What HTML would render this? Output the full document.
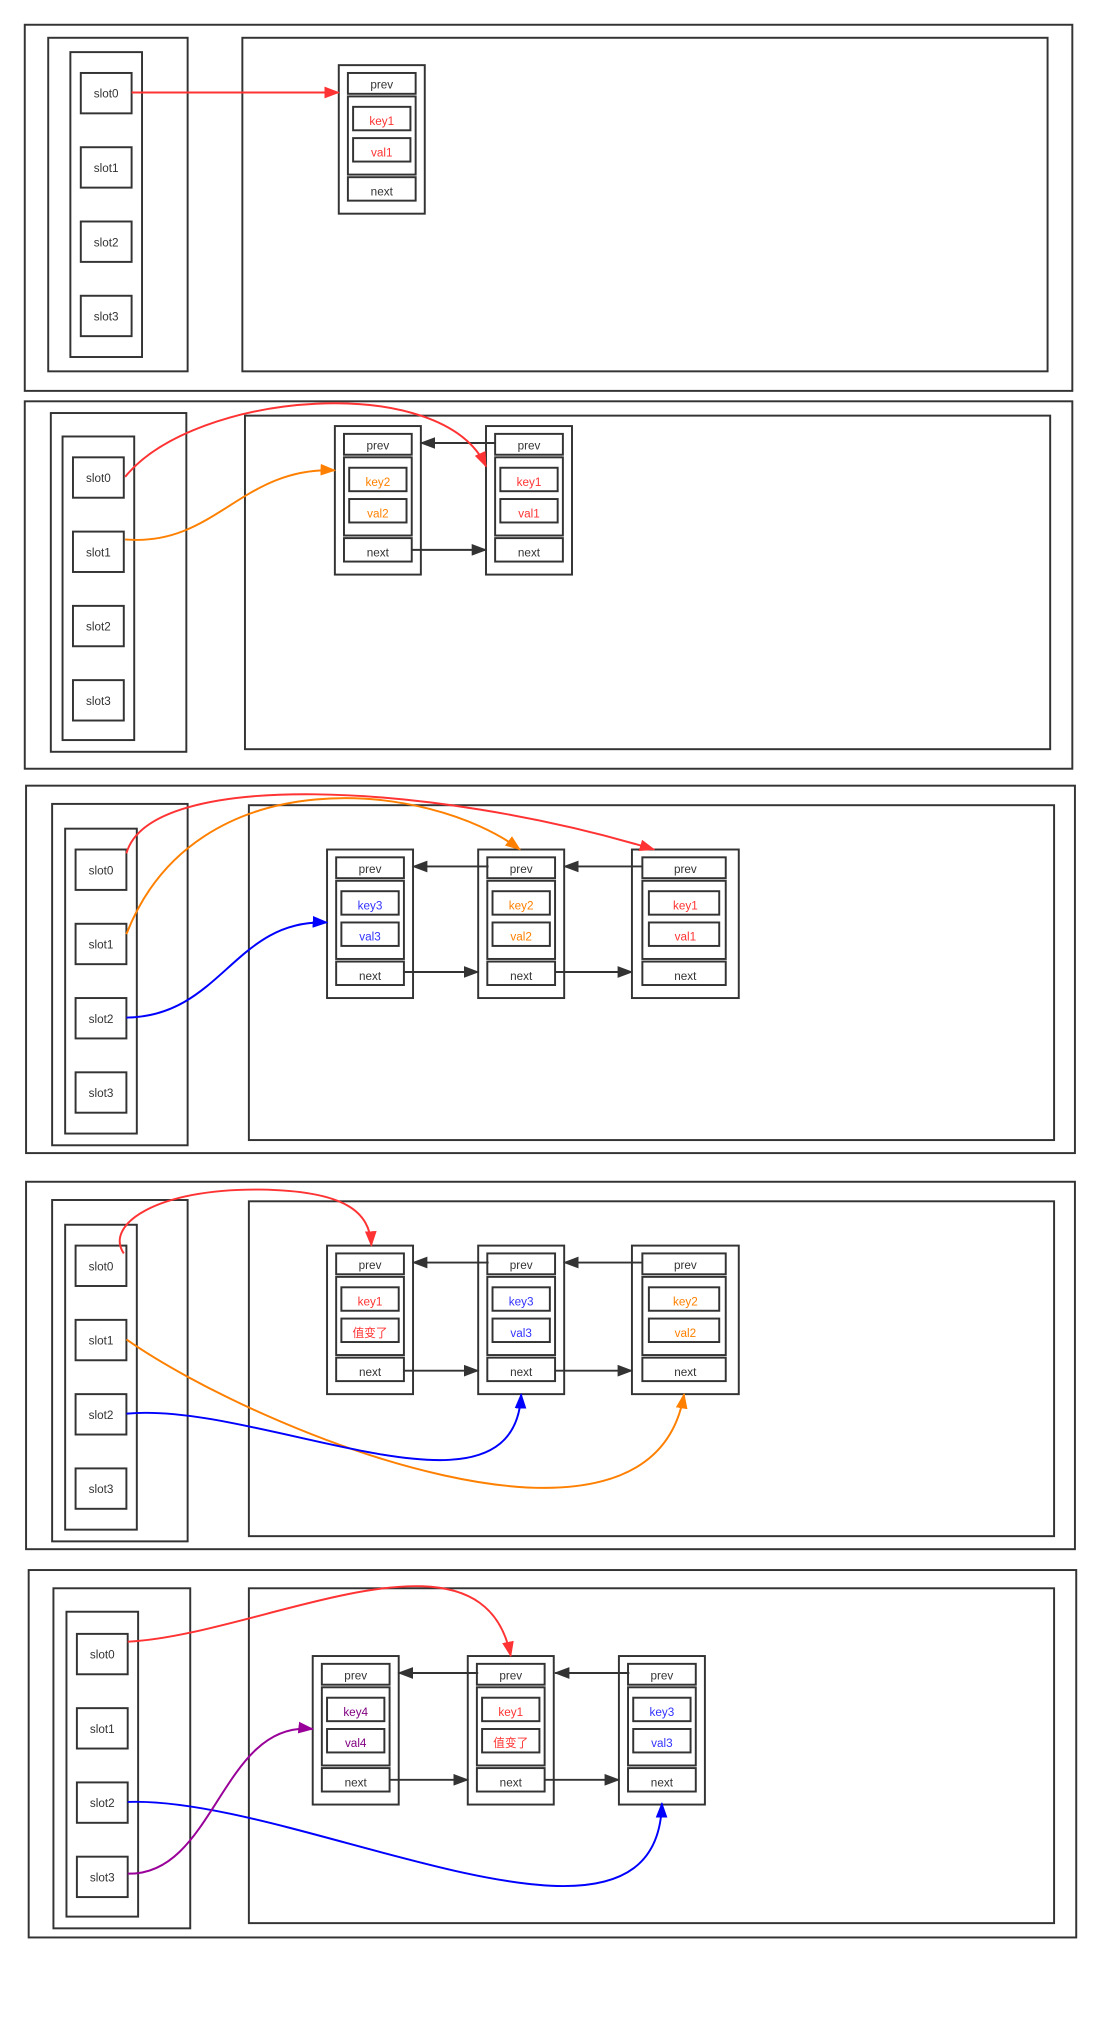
<!DOCTYPE html>
<html><head><meta charset="utf-8"><style>html,body{margin:0;padding:0;background:#fff}svg{display:block}</style></head>
<body>
<svg width="1101" height="2043" viewBox="0 0 845 1568" xmlns="http://www.w3.org/2000/svg" font-family="Liberation Sans, Noto Sans CJK SC, sans-serif" font-size="9">
<defs>
<marker id="mk" markerWidth="12" markerHeight="9" refX="11" refY="4.5" orient="auto" markerUnits="userSpaceOnUse"><path d="M0,0 L12,4.5 L0,9 z" fill="#333"/></marker>
<marker id="mr" markerWidth="12" markerHeight="9" refX="11" refY="4.5" orient="auto" markerUnits="userSpaceOnUse"><path d="M0,0 L12,4.5 L0,9 z" fill="#ff3333"/></marker>
<marker id="mo" markerWidth="12" markerHeight="9" refX="11" refY="4.5" orient="auto" markerUnits="userSpaceOnUse"><path d="M0,0 L12,4.5 L0,9 z" fill="#ff8000"/></marker>
<marker id="mb" markerWidth="12" markerHeight="9" refX="11" refY="4.5" orient="auto" markerUnits="userSpaceOnUse"><path d="M0,0 L12,4.5 L0,9 z" fill="#0000ff"/></marker>
<marker id="mp" markerWidth="12" markerHeight="9" refX="11" refY="4.5" orient="auto" markerUnits="userSpaceOnUse"><path d="M0,0 L12,4.5 L0,9 z" fill="#990099"/></marker>
<g id="nodeN" fill="none" stroke="#333" stroke-width="1.5">
<rect x="0" y="0" width="66" height="114"/><rect x="7" y="6" width="52" height="16"/><rect x="7" y="24" width="52" height="60"/>
<rect x="11" y="32" width="44" height="18"/><rect x="11" y="56" width="44" height="18"/><rect x="7" y="86" width="52" height="18"/>
</g>
<g id="nodeW" fill="none" stroke="#333" stroke-width="1.5">
<rect x="0" y="0" width="82" height="114"/><rect x="8" y="6" width="64" height="16"/><rect x="8" y="24" width="64" height="60"/>
<rect x="13" y="32" width="54" height="18"/><rect x="13" y="56" width="54" height="18"/><rect x="8" y="86" width="64" height="18"/>
</g>
<g id="slots" fill="none" stroke="#333" stroke-width="1.5">
<rect x="0" y="0" width="39" height="31"/><rect x="0" y="57" width="39" height="31"/><rect x="0" y="114" width="39" height="31"/><rect x="0" y="171" width="39" height="31"/>
</g>
</defs>
<g fill="none" stroke="#333" stroke-width="1.5">
<rect x="19" y="19" width="804" height="281"/><rect x="37" y="29" width="107" height="256"/><rect x="54" y="40" width="55" height="234"/><rect x="186" y="29" width="618" height="256"/>
<rect x="19" y="308" width="804" height="282"/><rect x="39" y="317" width="104" height="260"/><rect x="48" y="335" width="55" height="233"/><rect x="188" y="319" width="618" height="256"/>
<rect x="20" y="603" width="805" height="282"/><rect x="40" y="617" width="104" height="262"/><rect x="50" y="636" width="55" height="234"/><rect x="191" y="618" width="618" height="257"/>
<rect x="20" y="907" width="805" height="282"/><rect x="40" y="921" width="104" height="262"/><rect x="50" y="940" width="55" height="234"/><rect x="191" y="922" width="618" height="257"/>
<rect x="22" y="1205" width="804" height="282"/><rect x="41" y="1219" width="105" height="261"/><rect x="51" y="1237" width="55" height="234"/><rect x="191" y="1219" width="618" height="257"/>
</g>
<use href="#slots" x="62" y="56"/><use href="#slots" x="56" y="351"/><use href="#slots" x="58" y="652"/><use href="#slots" x="58" y="956"/><use href="#slots" x="59" y="1254"/>
<g fill="#333" text-anchor="middle">
<text x="81.5" y="75">slot0</text><text x="81.5" y="132">slot1</text><text x="81.5" y="189">slot2</text><text x="81.5" y="246">slot3</text>
<text x="75.5" y="370">slot0</text><text x="75.5" y="427">slot1</text><text x="75.5" y="484">slot2</text><text x="75.5" y="541">slot3</text>
<text x="77.5" y="671">slot0</text><text x="77.5" y="728">slot1</text><text x="77.5" y="785">slot2</text><text x="77.5" y="842">slot3</text>
<text x="77.5" y="975">slot0</text><text x="77.5" y="1032">slot1</text><text x="77.5" y="1089">slot2</text><text x="77.5" y="1146">slot3</text>
<text x="78.5" y="1273">slot0</text><text x="78.5" y="1330">slot1</text><text x="78.5" y="1387">slot2</text><text x="78.5" y="1444">slot3</text>
</g>
<use href="#nodeN" x="260" y="50"/>
<use href="#nodeN" x="257" y="327"/><use href="#nodeN" x="373" y="327"/>
<use href="#nodeN" x="251" y="652"/><use href="#nodeN" x="367" y="652"/><use href="#nodeW" x="485" y="652"/>
<use href="#nodeN" x="251" y="956"/><use href="#nodeN" x="367" y="956"/><use href="#nodeW" x="485" y="956"/>
<use href="#nodeN" x="240" y="1271"/><use href="#nodeN" x="359" y="1271"/><use href="#nodeN" x="475" y="1271"/>
<g text-anchor="middle" fill="#333">
<text x="293" y="68">prev</text><text x="293" y="150">next</text>
<text x="290" y="345">prev</text><text x="290" y="427">next</text><text x="406" y="345">prev</text><text x="406" y="427">next</text>
<text x="284" y="670">prev</text><text x="284" y="752">next</text><text x="400" y="670">prev</text><text x="400" y="752">next</text><text x="526" y="670">prev</text><text x="526" y="752">next</text>
<text x="284" y="974">prev</text><text x="284" y="1056">next</text><text x="400" y="974">prev</text><text x="400" y="1056">next</text><text x="526" y="974">prev</text><text x="526" y="1056">next</text>
<text x="273" y="1289">prev</text><text x="273" y="1371">next</text><text x="392" y="1289">prev</text><text x="392" y="1371">next</text><text x="508" y="1289">prev</text><text x="508" y="1371">next</text>
</g>
<g text-anchor="middle">
<text x="293" y="96" fill="#ff3333">key1</text><text x="293" y="120" fill="#ff3333">val1</text>
<text x="290" y="373" fill="#ff8000">key2</text><text x="290" y="397" fill="#ff8000">val2</text>
<text x="406" y="373" fill="#ff3333">key1</text><text x="406" y="397" fill="#ff3333">val1</text>
<text x="284" y="698" fill="#3333ff">key3</text><text x="284" y="722" fill="#3333ff">val3</text>
<text x="400" y="698" fill="#ff8000">key2</text><text x="400" y="722" fill="#ff8000">val2</text>
<text x="526" y="698" fill="#ff3333">key1</text><text x="526" y="722" fill="#ff3333">val1</text>
<text x="284" y="1002" fill="#ff3333">key1</text><text x="284" y="1026" fill="#ff3333">值变了</text>
<text x="400" y="1002" fill="#3333ff">key3</text><text x="400" y="1026" fill="#3333ff">val3</text>
<text x="526" y="1002" fill="#ff8000">key2</text><text x="526" y="1026" fill="#ff8000">val2</text>
<text x="273" y="1317" fill="#800080">key4</text><text x="273" y="1341" fill="#800080">val4</text>
<text x="392" y="1317" fill="#ff3333">key1</text><text x="392" y="1341" fill="#ff3333">值变了</text>
<text x="508" y="1317" fill="#3333ff">key3</text><text x="508" y="1341" fill="#3333ff">val3</text>
</g>
<g stroke="#333" stroke-width="1.5" fill="none" marker-end="url(#mk)">
<path d="M380,340 L323,340"/><path d="M316,422 L373,422"/>
<path d="M375,665 L317,665"/><path d="M493,665 L433,665"/><path d="M310,746 L367,746"/><path d="M426,746 L485,746"/>
<path d="M375,969 L317,969"/><path d="M493,969 L433,969"/><path d="M310,1052 L367,1052"/><path d="M426,1052 L485,1052"/>
<path d="M367,1284 L306,1284"/><path d="M483,1284 L426,1284"/><path d="M299,1366 L359,1366"/><path d="M418,1366 L475,1366"/>
</g>
<g fill="none" stroke-width="1.5">
<path d="M101,71 L260,71" stroke="#ff3333" marker-end="url(#mr)"/>
<path d="M96,366 C150,300 340,285 373,358" stroke="#ff3333" marker-end="url(#mr)"/>
<path d="M96,414 C165,420 185,358 257,361" stroke="#ff8000" marker-end="url(#mo)"/>
<path d="M97,655 C115,590 330,600 502,652" stroke="#ff3333" marker-end="url(#mr)"/>
<path d="M97,717 C150,580 330,600 399,652" stroke="#ff8000" marker-end="url(#mo)"/>
<path d="M97,781 C170,780 180,705 251,708" stroke="#0000ff" marker-end="url(#mb)"/>
<path d="M95,962 C80,940 120,912 200,913 C265,914 284,930 285,956" stroke="#ff3333" marker-end="url(#mr)"/>
<path d="M97,1028 C200,1100 500,1220 525,1070" stroke="#ff8000" marker-end="url(#mo)"/>
<path d="M97,1085 C200,1075 395,1180 400,1070" stroke="#0000ff" marker-end="url(#mb)"/>
<path d="M98,1260 C200,1255 370,1160 392,1271" stroke="#ff3333" marker-end="url(#mr)"/>
<path d="M98,1383 C230,1378 505,1530 508,1384" stroke="#0000ff" marker-end="url(#mb)"/>
<path d="M98,1438 C165,1440 170,1320 240,1327" stroke="#990099" marker-end="url(#mp)"/>
</g>
</svg>
</body></html>
